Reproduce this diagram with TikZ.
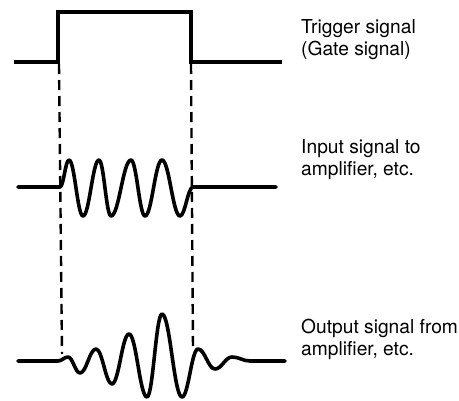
\documentclass[tikz,border=0pt]{standalone}
\usepackage{fontspec}
\setmainfont{TeX Gyre Heros}
\usepackage{tikz}
\usetikzlibrary{positioning}

\begin{document}
\begin{tikzpicture}[x=1pt, y=-1pt]
\tikzstyle{wave} = [line width=3.6pt, line join=round, line cap=round]
\tikzstyle{pulse} = [line width=3.6pt, line join=miter]
\tikzstyle{guide} = [line width=2.4pt, dash pattern=on 10pt off 6pt]
\tikzstyle{label} = [anchor=base west, inner sep=0pt, align=left, font=\fontsize{19.2}{22}\selectfont]

\useasboundingbox (0,0) rectangle (459,400);

\coordinate (trigL) at (59,64);
\coordinate (trigR) at (191,64);
\coordinate (outL) at (62,354);
\coordinate (outR) at (193,349);

% gate pulse
\draw [pulse] (14,62) -- (58,62) -- (58,12) -- (191,12) -- (191,62) -- (282,62);

% input burst
\draw [wave] (18,187) -- (60,187)
  \foreach \x/\y [remember=\x as \px (initially 60), remember=\y as \py (initially 187)] in
    {69/160, 83/216, 99/160, 111/216, 131/160, 145/216, 162/160, 180/216, 193/187}
    { .. controls ({\px+0.4*(\x-\px)},\py) and ({\x-0.4*(\x-\px)},\y) .. (\x,\y) }
  -- (276,187);

% output burst
\draw [wave] (18,361) -- (58,361)
  \foreach \x/\y [remember=\x as \px (initially 58), remember=\y as \py (initially 361)] in
    {68/357, 80/373, 96/349, 112/384, 129/334, 147/397, 162/314, 182/397,
     198/349, 215/369, 232/357, 250/361}
    { .. controls ({\px+0.4*(\x-\px)},\py) and ({\x-0.4*(\x-\px)},\y) .. (\x,\y) }
  -- (285,361);

\draw [guide] (trigL) -- (outL);
\draw [guide] (trigR) -- (outR);

\node (trigger) [label] at (301,55) {Trigger signal\\(Gate signal)};
\node (input) [label] at (301,175) {Input signal to\\amplifier, etc.};
\node (output) [label] at (301,355) {Output signal from\\amplifier, etc.};
\end{tikzpicture}
\end{document}
